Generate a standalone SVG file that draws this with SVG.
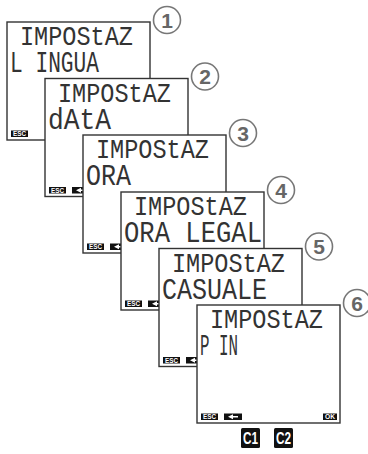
<svg xmlns="http://www.w3.org/2000/svg" width="368" height="454" viewBox="0 0 368 454">
<style>
.scr{fill:#fff;stroke:#333;stroke-width:1.4}
.t1{font-family:"Liberation Mono",monospace;font-size:27px;fill:#333}
.t2{font-family:"Liberation Mono",monospace;font-size:29px;fill:#333}
.btn{fill:#111}
.bt{font-family:"Liberation Sans",Arial,sans-serif;font-size:6.5px;font-weight:bold;fill:#fff;text-anchor:middle}
.num{fill:#fff;stroke:#777;stroke-width:1.6}
.nt{font-family:"Liberation Sans",Arial,sans-serif;font-size:21px;font-weight:bold;fill:#666;text-anchor:middle}
.ct{font-family:"Liberation Sans",Arial,sans-serif;font-size:16px;font-weight:bold;fill:#fff;text-anchor:middle}
.ar{fill:#fff}
</style>
<g id="screen1">
<rect class="scr" x="7" y="22" width="143" height="118"/>
<text class="t1" x="20" y="45" textLength="113" lengthAdjust="spacingAndGlyphs">IMPOStAZ</text>
<text class="t2" x="10" y="72" textLength="89" lengthAdjust="spacingAndGlyphs">L INGUA</text>
<rect class="btn" x="11" y="130.5" width="17" height="6.5"/>
<text class="bt" x="19.5" y="136" textLength="13" lengthAdjust="spacingAndGlyphs">ESC</text>
<circle class="num" cx="167" cy="20" r="13.5"/>
<text class="nt" x="167" y="27.5">1</text>
</g>
<g id="screen2">
<rect class="scr" x="45" y="78.5" width="143" height="118"/>
<text class="t1" x="58" y="101.5" textLength="113" lengthAdjust="spacingAndGlyphs">IMPOStAZ</text>
<text class="t2" x="48" y="128.5" textLength="63" lengthAdjust="spacingAndGlyphs">dAtA</text>
<rect class="btn" x="49" y="187" width="17" height="6.5"/>
<text class="bt" x="57.5" y="192.5" textLength="13" lengthAdjust="spacingAndGlyphs">ESC</text>
<rect class="btn" x="72" y="187" width="18" height="6.5"/>
<polygon class="ar" points="76,190.25 81,187.75 81,189.45 86,189.45 86,191.05 81,191.05 81,192.75"/>
<circle class="num" cx="205" cy="76.5" r="13.5"/>
<text class="nt" x="205" y="84">2</text>
</g>
<g id="screen3">
<rect class="scr" x="83" y="135" width="143" height="118"/>
<text class="t1" x="96" y="158" textLength="113" lengthAdjust="spacingAndGlyphs">IMPOStAZ</text>
<text class="t2" x="86" y="185" textLength="45" lengthAdjust="spacingAndGlyphs">ORA</text>
<rect class="btn" x="87" y="243.5" width="17" height="6.5"/>
<text class="bt" x="95.5" y="249" textLength="13" lengthAdjust="spacingAndGlyphs">ESC</text>
<rect class="btn" x="110" y="243.5" width="18" height="6.5"/>
<polygon class="ar" points="114,246.75 119,244.25 119,245.95 124,245.95 124,247.55 119,247.55 119,249.25"/>
<circle class="num" cx="243" cy="133" r="13.5"/>
<text class="nt" x="243" y="140.5">3</text>
</g>
<g id="screen4">
<rect class="scr" x="121" y="192" width="143" height="118"/>
<text class="t1" x="134" y="215" textLength="113" lengthAdjust="spacingAndGlyphs">IMPOStAZ</text>
<text class="t2" x="124" y="242" textLength="138" lengthAdjust="spacingAndGlyphs">ORA LEGAL</text>
<rect class="btn" x="125" y="300.5" width="17" height="6.5"/>
<text class="bt" x="133.5" y="306" textLength="13" lengthAdjust="spacingAndGlyphs">ESC</text>
<rect class="btn" x="148" y="300.5" width="18" height="6.5"/>
<polygon class="ar" points="152,303.75 157,301.25 157,302.95 162,302.95 162,304.55 157,304.55 157,306.25"/>
<circle class="num" cx="281" cy="190" r="13.5"/>
<text class="nt" x="281" y="197.5">4</text>
</g>
<g id="screen5">
<rect class="scr" x="159" y="248.5" width="143" height="118"/>
<text class="t1" x="172" y="271.5" textLength="113" lengthAdjust="spacingAndGlyphs">IMPOStAZ</text>
<text class="t2" x="162" y="298.5" textLength="105" lengthAdjust="spacingAndGlyphs">CASUALE</text>
<rect class="btn" x="163" y="357" width="17" height="6.5"/>
<text class="bt" x="171.5" y="362.5" textLength="13" lengthAdjust="spacingAndGlyphs">ESC</text>
<rect class="btn" x="186" y="357" width="18" height="6.5"/>
<polygon class="ar" points="190,360.25 195,357.75 195,359.45 200,359.45 200,361.05 195,361.05 195,362.75"/>
<circle class="num" cx="319" cy="246.5" r="13.5"/>
<text class="nt" x="319" y="254">5</text>
</g>
<g id="screen6">
<rect class="scr" x="197" y="305" width="143" height="118"/>
<text class="t1" x="210" y="328" textLength="113" lengthAdjust="spacingAndGlyphs">IMPOStAZ</text>
<text class="t2" x="200" y="355" textLength="38" lengthAdjust="spacingAndGlyphs">P IN</text>
<rect class="btn" x="201" y="413.5" width="17" height="6.5"/>
<text class="bt" x="209.5" y="419" textLength="13" lengthAdjust="spacingAndGlyphs">ESC</text>
<rect class="btn" x="224" y="413.5" width="18" height="6.5"/>
<polygon class="ar" points="228,416.75 233,414.25 233,415.95 238,415.95 238,417.55 233,417.55 233,419.25"/>
<rect class="btn" x="323" y="413.5" width="14" height="6.5"/>
<text class="bt" x="330" y="419" textLength="10" lengthAdjust="spacingAndGlyphs">OK</text>
<circle class="num" cx="357" cy="303" r="13.5"/>
<text class="nt" x="357" y="310.5">6</text>
</g>
<g id="c1">
<rect class="btn" x="241" y="428" width="19" height="20" rx="1.5"/>
<text class="ct" x="250.5" y="444" textLength="15" lengthAdjust="spacingAndGlyphs">C1</text>
</g>
<g id="c2">
<rect class="btn" x="274" y="428" width="19" height="20" rx="1.5"/>
<text class="ct" x="283.5" y="444" textLength="15" lengthAdjust="spacingAndGlyphs">C2</text>
</g>
</svg>
